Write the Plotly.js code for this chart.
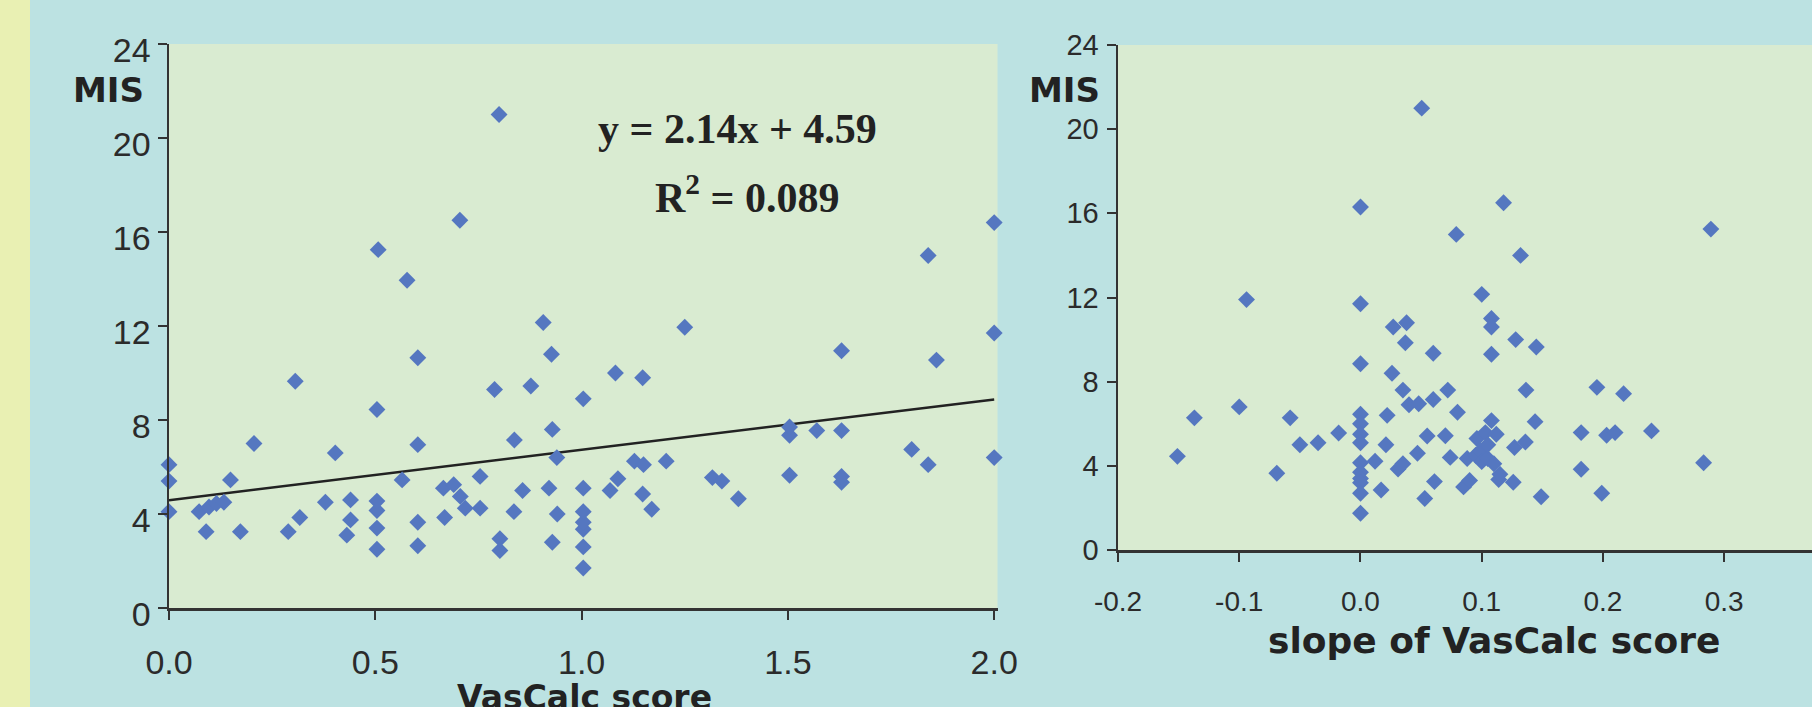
<!DOCTYPE html>
<html>
<head>
<meta charset="utf-8">
<script src="https://cdn.plot.ly/plotly-3.0.1.min.js"></script>
<style>html,body{margin:0;padding:0;}#chart{width:1812px;height:707px;}</style>
</head>
<body>
<div id="chart"></div>
<script>
// Left panel: MIS vs VasCalc score
const leftX = [0.0,0.0,0.0,0.073,0.09,0.097,0.115,0.133,0.149,0.173,0.206,0.289,0.306,0.317,0.379,0.403,0.431,0.44,0.44,
  0.504,0.504,0.504,0.504,0.504,0.507,0.565,0.577,0.603,0.603,0.603,0.603,0.665,0.668,0.69,0.705,0.706,0.718,0.754,0.754,
  0.789,0.8,0.802,0.802,0.836,0.837,0.857,0.877,0.907,0.921,0.927,0.929,0.929,0.94,0.941,
  1.004,1.004,1.004,1.004,1.004,1.004,1.004,1.069,1.082,1.088,1.128,1.148,1.148,1.15,1.17,1.205,1.25,1.317,1.34,1.38,
  1.504,1.504,1.504,1.57,1.63,1.63,1.63,1.63,1.8,1.84,1.84,1.86,2.0,2.0,2.0];
const leftY = [6.1,5.4,4.1,4.1,3.25,4.3,4.45,4.5,5.45,3.25,7.0,3.25,9.65,3.85,4.5,6.6,3.1,3.75,4.6,
  2.5,3.4,4.15,4.55,8.45,15.25,5.45,13.95,2.65,3.65,6.95,10.65,5.1,3.85,5.25,16.5,4.75,4.25,4.25,5.6,
  9.3,21.0,2.45,2.95,4.1,7.15,5.0,9.45,12.15,5.1,10.8,2.8,7.6,6.4,4.0,
  1.7,2.6,3.35,3.65,4.1,5.1,8.9,5.0,10.0,5.5,6.25,4.85,9.8,6.1,4.2,6.25,11.95,5.55,5.4,4.65,
  5.65,7.35,7.7,7.55,5.35,5.6,7.55,10.95,6.75,6.1,15.0,10.55,6.4,11.7,16.4];

// Regression line shown on the left panel
const trendSlope = 2.14;
const trendIntercept = 4.59;
const trendXRange = [0, 2];

// Right panel: MIS vs slope of VasCalc score
const rightX = [-0.151,-0.137,-0.1,-0.094,-0.069,-0.058,-0.05,-0.035,-0.018,
  0,0,0,0,0,0,0,0,0,0,0,0,0,
  0.012,0.017,0.021,0.022,0.026,0.027,0.031,0.035,0.035,0.037,0.038,0.04,0.047,0.048,0.0505,0.053,0.055,0.06,0.06,0.061,
  0.07,0.072,0.074,0.079,0.08,0.085,0.088,0.09,0.095,0.096,0.099,0.1,0.1,0.103,0.105,0.105,0.108,0.108,0.108,0.108,0.11,0.112,
  0.114,0.115,0.118,0.126,0.127,0.128,0.132,0.136,0.1365,0.144,0.145,0.149,0.182,0.182,0.195,0.199,0.203,0.21,0.217,0.24,0.283,0.289];
const rightY = [4.45,6.28,6.8,11.9,3.65,6.28,5.0,5.1,5.56,
  16.3,11.7,8.85,6.45,6.0,5.5,5.1,4.15,3.7,3.4,3.2,2.7,1.75,
  4.22,2.85,5.0,6.4,8.4,10.6,3.85,4.1,7.6,9.85,10.8,6.9,4.6,6.95,21.0,2.45,5.42,7.15,9.35,3.25,
  5.43,7.6,4.4,15.0,6.55,3.0,4.35,3.3,4.5,5.3,4.7,12.15,4.2,5.58,4.35,5.0,11.0,10.6,9.3,6.15,4.1,5.5,
  3.35,3.6,16.5,3.22,4.87,10.0,14.0,5.13,7.6,6.1,9.65,2.53,5.58,3.84,7.73,2.7,5.45,5.58,7.43,5.66,4.15,15.25];

const leftXTicks = [0, 0.5, 1, 1.5, 2];
const leftXTickText = ['0.0','0.5','1.0','1.5','2.0'];
const rightXTicks = [-0.2, -0.1, 0, 0.1, 0.2, 0.3];
const rightXTickText = ['-0.2','-0.1','0.0','0.1','0.2','0.3'];
const yTicks = [0, 4, 8, 12, 16, 20, 24];
const yTickText = ['0','4','8','12','16','20','24'];

const W = 1812, H = 707;
const px = v => v / W;
const py = v => 1 - v / H;

const markerStyle = {symbol: 'diamond', size: 13, color: '#5577c0', line: {width: 0}};

const traces = [
  {type: 'scatter', mode: 'lines', x: trendXRange, y: trendXRange.map(v => trendIntercept + trendSlope * v),
   xaxis: 'x', yaxis: 'y', line: {color: '#222', width: 2.5}, hoverinfo: 'skip', cliponaxis: false},
  {type: 'scatter', mode: 'markers', x: leftX, y: leftY, xaxis: 'x', yaxis: 'y', marker: markerStyle, cliponaxis: false},
  {type: 'scatter', mode: 'markers', x: rightX, y: rightY, xaxis: 'x2', yaxis: 'y2', marker: markerStyle, cliponaxis: false}
];

const axisCommon = {
  showline: true, linecolor: '#333', linewidth: 2.5, ticks: 'outside', ticklen: 9, tickwidth: 2, tickcolor: '#333',
  showgrid: false, zeroline: false, fixedrange: true
};

const layout = {
  width: W, height: H,
  margin: {l: 0, r: 0, t: 0, b: 0, pad: 0},
  paper_bgcolor: '#bce2e2',
  plot_bgcolor: '#d9ebd1',
  showlegend: false,
  xaxis: Object.assign({}, axisCommon, {domain: [px(169), px(997.5)], range: [0, 2.008], anchor: 'y',
    tickmode: 'array', tickvals: leftXTicks, ticktext: leftXTickText, ticklabelstandoff: 14,
    tickfont: {family: 'Liberation Sans, Arial, sans-serif', size: 34, color: '#2b2b2b'}}),
  yaxis: Object.assign({}, axisCommon, {domain: [py(608), py(44)], range: [0, 24], anchor: 'x',
    tickmode: 'array', tickvals: yTicks, ticktext: yTickText, ticklabelstandoff: 0, ticklabelshift: 6,
    tickfont: {family: 'Liberation Sans, Arial, sans-serif', size: 34, color: '#2b2b2b'}}),
  xaxis2: Object.assign({}, axisCommon, {domain: [px(1118), 1], range: [-0.2, 0.3724], anchor: 'y2',
    tickmode: 'array', tickvals: rightXTicks, ticktext: rightXTickText, ticklabelstandoff: 16,
    tickfont: {family: 'Liberation Sans, Arial, sans-serif', size: 28, color: '#2b2b2b'}}),
  yaxis2: Object.assign({}, axisCommon, {domain: [py(550), py(45)], range: [0, 24], anchor: 'x2',
    tickmode: 'array', tickvals: yTicks, ticktext: yTickText, ticklabelstandoff: 2,
    tickfont: {family: 'Liberation Sans, Arial, sans-serif', size: 29, color: '#2b2b2b'}}),
  shapes: [
    {type: 'rect', xref: 'paper', yref: 'paper', x0: 0, x1: px(30), y0: 0, y1: 1,
     fillcolor: '#e9f0b3', line: {width: 0}, layer: 'below'}
  ],
  annotations: [
    {xref: 'paper', yref: 'paper', x: px(146), y: py(90), xanchor: 'right', yanchor: 'middle', showarrow: false,
     text: '<b>MIS</b>', font: {family: 'DejaVu Sans, sans-serif', size: 34, color: '#222'}},
    {xref: 'paper', yref: 'paper', x: px(1102), y: py(90), xanchor: 'right', yanchor: 'middle', showarrow: false,
     text: '<b>MIS</b>', font: {family: 'DejaVu Sans, sans-serif', size: 34, color: '#222'}},
    {xref: 'paper', yref: 'paper', x: px(584), y: py(697), xanchor: 'center', yanchor: 'middle', showarrow: false,
     text: '<b>VasCalc score</b>', font: {family: 'DejaVu Sans, sans-serif', size: 33, color: '#222'}},
    {xref: 'paper', yref: 'paper', x: px(1494), y: py(640), xanchor: 'center', yanchor: 'middle', showarrow: false,
     text: '<b>slope of VasCalc score</b>', font: {family: 'DejaVu Sans, sans-serif', size: 36, color: '#222'}},
    {xref: 'paper', yref: 'paper', x: px(737), y: py(129), xanchor: 'center', yanchor: 'middle', showarrow: false,
     text: '<b>y = 2.14x + 4.59</b>', font: {family: 'Liberation Serif, Times New Roman, serif', size: 42, color: '#222'}},
    {xref: 'paper', yref: 'paper', x: px(747), y: py(195), xanchor: 'center', yanchor: 'middle', showarrow: false,
     text: '<b>R<sup>2</sup> = 0.089</b>', font: {family: 'Liberation Serif, Times New Roman, serif', size: 42, color: '#222'}}
  ]
};

Plotly.newPlot('chart', traces, layout, {staticPlot: true, displayModeBar: false});
</script>
</body>
</html>
